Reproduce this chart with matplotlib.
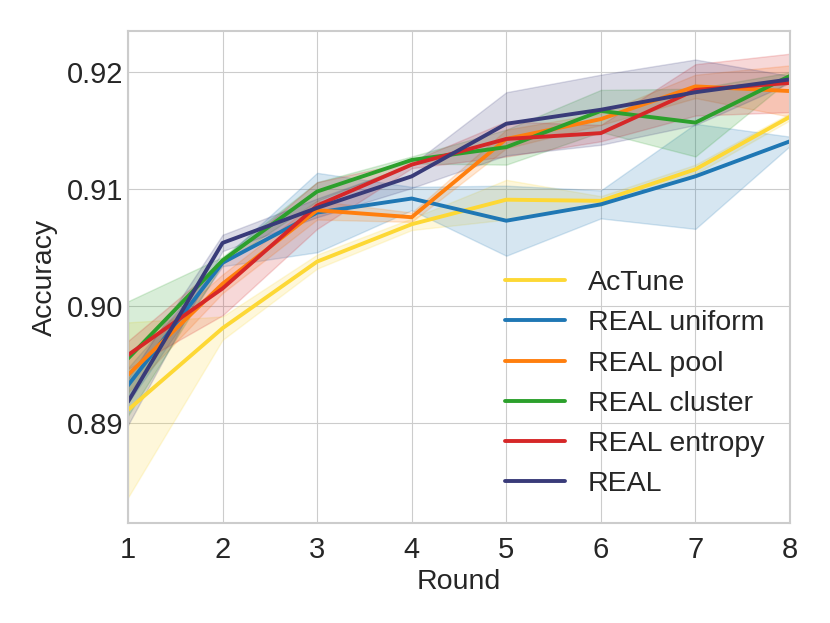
import numpy as np
import matplotlib
matplotlib.use("Agg")
import matplotlib.pyplot as plt

plt.style.use("seaborn-v0_8-whitegrid")
plt.rcParams['font.family'] = ['Liberation Sans', 'DejaVu Sans']

rounds = [1, 2, 3, 4, 5, 6, 7, 8]
names = ["AcTune", "REAL uniform", "REAL pool", "REAL cluster", "REAL entropy", "REAL"]
colors = ["#fdd835", "#1f77b4", "#ff7f0e", "#2ca02c", "#d62728", "#393b79"]

# mean accuracy per round
actune = [0.8911, 0.8981, 0.9038, 0.9070, 0.9091, 0.9090, 0.9117, 0.9162]
uniform = [0.8932, 0.9037, 0.9080, 0.9092, 0.9073, 0.9087, 0.9111, 0.9141]
pool = [0.8941, 0.9019, 0.9082, 0.9076, 0.9143, 0.9160, 0.9188, 0.9184]
cluster = [0.8955, 0.9039, 0.9098, 0.9125, 0.9136, 0.9167, 0.9157, 0.9197]
entropy = [0.8958, 0.9015, 0.9086, 0.9121, 0.9143, 0.9148, 0.9185, 0.9191]
real = [0.8918, 0.9054, 0.9084, 0.9111, 0.9156, 0.9168, 0.9183, 0.9194]

# std (shaded band)
actune_sd = [0.0075, 0.0010, 0.0006, 0.0005, 0.0017, 0.0004, 0.0004, 0.0003]
uniform_sd = [0.0015, 0.0003, 0.0034, 0.0010, 0.0030, 0.0012, 0.0045, 0.0004]
pool_sd = [0.0015, 0.0008, 0.0008, 0.0004, 0.0008, 0.0005, 0.0010, 0.0022]
cluster_sd = [0.0049, 0.0003, 0.0008, 0.0003, 0.0015, 0.0018, 0.0029, 0.0003]
entropy_sd = [0.0012, 0.0023, 0.0020, 0.0003, 0.0015, 0.0007, 0.0022, 0.0025]
real_sd = [0.0020, 0.0007, 0.0008, 0.0010, 0.0027, 0.0030, 0.0028, 0.0003]

means = [actune, uniform, pool, cluster, entropy, real]
sds = [actune_sd, uniform_sd, pool_sd, cluster_sd, entropy_sd, real_sd]

fig = plt.figure(figsize=(8.3, 6.23), dpi=100)
ax = fig.add_axes([0.1542, 0.1605, 0.7976, 0.7897])

x = np.array(rounds)
for name, c, m, s in zip(names, colors, means, sds):
    m = np.array(m)
    s = np.array(s)
    ax.fill_between(x, m - s, m + s, color=c, alpha=0.18, linewidth=1)
    ax.plot(x, m, color=c, lw=2.8, label=name)

ax.set_xlim(1, 8)
ax.set_ylim(0.88142, 0.92354)
ax.set_yticks([0.89, 0.90, 0.91, 0.92])
ax.set_yticklabels(["0.89", "0.90", "0.91", "0.92"])
ax.tick_params(labelsize=21)
ax.tick_params(axis="x", pad=9)
ax.set_xlabel("Round", fontsize=20.5, labelpad=4)
ax.set_ylabel("Accuracy", fontsize=20.5, labelpad=6)
for sp in ax.spines.values():
    sp.set_visible(True)
    sp.set_color("#cccccc")
    sp.set_linewidth(1.5)

leg = ax.legend(loc="lower right", fontsize=20.5, frameon=False, handlelength=2.1,
                handletextpad=0.8, borderaxespad=0.5)

plt.savefig("out.png", dpi=100)
